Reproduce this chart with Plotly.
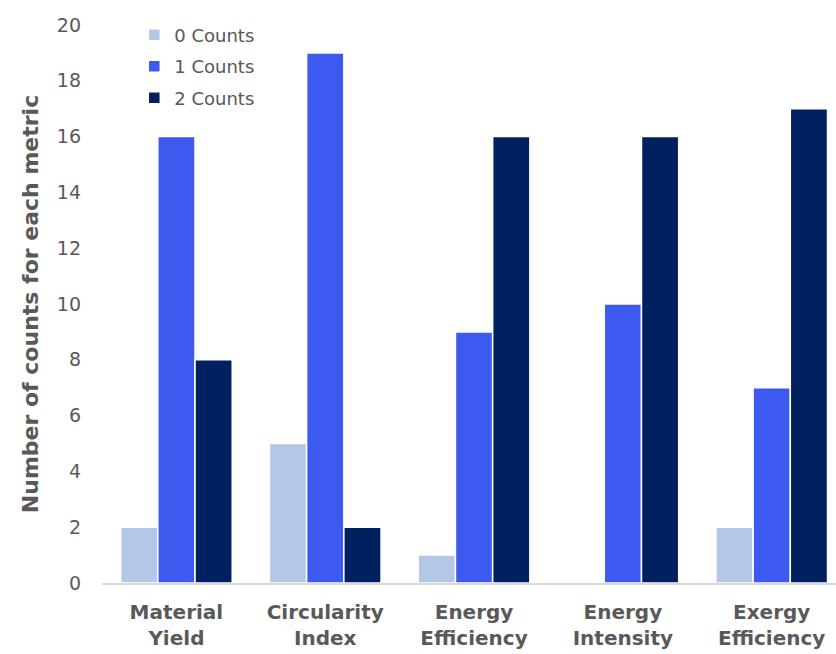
import plotly.graph_objects as go

categories = ["Material<br>Yield", "Circularity<br>Index", "Energy<br>Efficiency",
              "Energy<br>Intensity", "Exergy<br>Efficiency"]
counts_0 = [2, 5, 1, 0, 2]
counts_1 = [16, 19, 9, 10, 7]
counts_2 = [8, 2, 16, 16, 17]
series_names = ["0 Counts", "1 Counts", "2 Counts"]
colors = ["#b4c7e7", "#3c5af0", "#002060"]

FONT = "DejaVu Sans"
GRAY = "#595959"

fig = go.Figure()
for name, vals, col in zip(series_names, [counts_0, counts_1, counts_2], colors):
    fig.add_trace(go.Bar(
        x=categories, y=vals, name=name, legendgroup=name,
        marker=dict(color=col, line=dict(color="white", width=1.5)),
    ))

fig.update_layout(
    width=836, height=654,
    margin=dict(l=102, r=0, t=25, b=71),
    paper_bgcolor="white", plot_bgcolor="white",
    barmode="group", bargap=0.25, bargroupgap=0,
    font=dict(family=FONT, color=GRAY, size=18),
    legend=dict(x=0.044, y=1.015, xanchor="left", yanchor="top",
                font=dict(family=FONT, size=18, color=GRAY), bgcolor="rgba(0,0,0,0)",
                tracegroupgap=5, itemwidth=30),
    showlegend=True,
)
fig.update_xaxes(
    range=[-0.5, 4.432],
    showline=True, linecolor="#d9d9d9", linewidth=2,
    showgrid=False, ticks="", ticklabelstandoff=10,
    tickfont=dict(family=FONT, size=20, color=GRAY, weight="bold"),
)
fig.update_yaxes(
    range=[0, 20], dtick=2, showgrid=False, zeroline=False, showline=False,
    ticks="", ticklabelstandoff=20,
    tickfont=dict(family=FONT, size=19, color=GRAY),
    title=dict(text="Number of counts for each metric", standoff=12,
               font=dict(family=FONT, size=22, color=GRAY, weight="bold")),
)

fig.write_html("out.html")
